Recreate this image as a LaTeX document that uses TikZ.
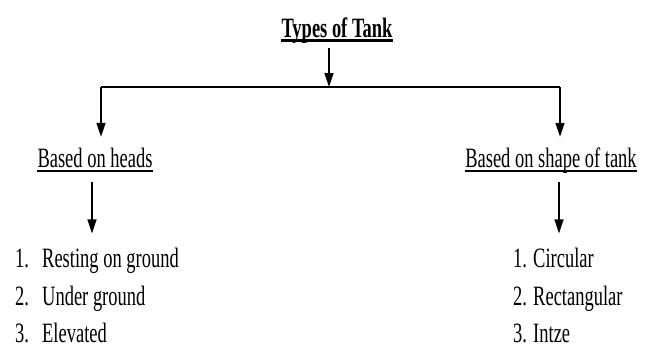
\documentclass[tikz,border=0pt]{standalone}
\usepackage{fontspec}
\setmainfont{Liberation Serif}[FakeStretch=0.66]
\usetikzlibrary{arrows.meta}
\newcommand{\bigtxt}{\fontsize{28pt}{32pt}\selectfont}
\begin{document}
\begin{tikzpicture}[x=1pt, y=-1pt,
    head/.style={font=\bigtxt, inner sep=0pt, anchor=base, text height=20pt, text depth=6pt},
    item/.style={font=\bigtxt, inner sep=0pt, anchor=base west},
    arr/.style={line width=1.5pt, -{Triangle[length=14pt, width=9pt]}},
    uline/.style={line width=1.6pt}]
    \useasboundingbox (0,0) rectangle (653,349);

    % heading
    \node[head, font=\bigtxt\bfseries] (tank) at (337,37) {Types of Tank};
    \draw[line width=3pt] ([yshift=-3pt]tank.base west) -- ([yshift=-3pt]tank.base east);

    % branches
    \node[head] (heads) at (95,167) {Based on heads};
    \node[head] (shape) at (551,167) {Based on shape of tank};
    \draw[uline] ([yshift=-4pt]heads.base west) -- ([yshift=-4pt]heads.base east);
    \draw[uline] ([yshift=-4pt]shape.base west) -- ([yshift=-4pt]shape.base east);

    % lists
    \node[item] (l1) at (15,267) {\makebox[27pt][l]{1.}Resting on ground};
    \node[item] (l2) at (15,305) {\makebox[27pt][l]{2.}Under ground};
    \node[item] (l3) at (15,342) {\makebox[27pt][l]{3.}Elevated};
    \node[item] (r1) at (513,267) {1. Circular};
    \node[item] (r2) at (513,305) {2. Rectangular};
    \node[item] (r3) at (513,342) {3. Intze};

    % connectors
    \coordinate (top) at (329,87);
    \coordinate (barL) at (101,87);
    \coordinate (barR) at (560,87);
    \draw[arr, shorten <=5pt] (top |- tank.south) -- (top);
    \draw[line width=1.5pt] (barL) -- (barR);
    \draw[arr, shorten >=10pt] (barL) -- (barL |- heads.north);
    \draw[arr, shorten >=10pt] (barR) -- (barR |- shape.north);
    \draw[arr, shorten <=9pt, shorten >=14pt] ([xshift=-3pt]heads.south) -- ([xshift=-3pt]heads.south |- l1.north);
    \draw[arr, shorten <=9pt, shorten >=14pt] ([xshift=8pt]shape.south) -- ([xshift=8pt]shape.south |- r1.north);
\end{tikzpicture}
\end{document}
